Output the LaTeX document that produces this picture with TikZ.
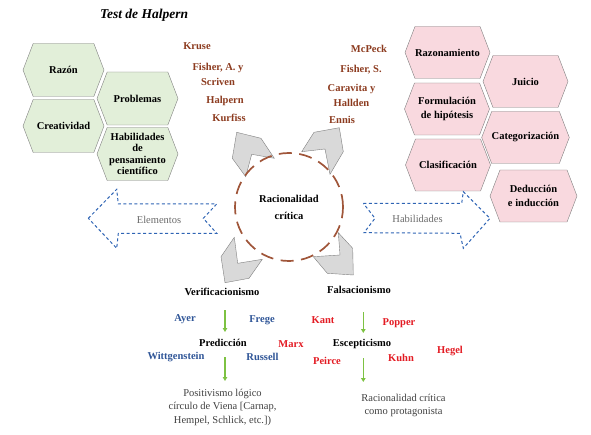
\documentclass[tikz,border=0pt]{standalone}
\usepackage{fontspec}
\setmainfont{Liberation Serif}
\usepackage{xcolor}
\usetikzlibrary{arrows.meta}
\usetikzlibrary{shapes.symbols}

\definecolor{hexgreen}{HTML}{E2EFD9}
\definecolor{hexpink}{HTML}{F9D9DF}
\definecolor{hexline}{HTML}{7F7F7F}
\definecolor{namebrown}{HTML}{8C3B1F}
\definecolor{ringbrown}{HTML}{A0563A}
\definecolor{nameblue}{HTML}{2F5597}
\definecolor{namered}{HTML}{E31B23}
\definecolor{arrowgreen}{HTML}{7DC242}
\definecolor{chevgray}{HTML}{D9D9D9}
\definecolor{dashblue}{HTML}{2E64B4}
\definecolor{labelgray}{HTML}{6A6A6A}
\definecolor{textgray}{HTML}{404040}

\tikzset{
    tnode/.style = {align=center, inner sep=0pt, text centered},
    hex/.style = {tnode, signal, signal to=east and west, signal pointer angle=138, draw=hexline, thin, font=\bfseries\fontsize{10.5}{14}\selectfont},
    green_hex/.style = {hex, fill=hexgreen, minimum width=81pt, minimum height=53pt},
    pink_hex/.style = {hex, fill=hexpink, minimum width=85pt, minimum height=52pt},
    brown_name/.style = {tnode, text=namebrown, font=\bfseries\fontsize{10.5}{15}\selectfont},
    blue_name/.style = {tnode, text=nameblue, font=\bfseries\fontsize{10.5}{13}\selectfont},
    red_name/.style = {tnode, text=namered, font=\bfseries\fontsize{10.5}{13}\selectfont},
    stage/.style = {tnode, text=black, font=\bfseries\fontsize{10.5}{13}\selectfont},
    note/.style = {tnode, text=textgray, font=\fontsize{10.5}{13.5}\selectfont},
    chevron/.style = {fill=chevgray, draw=hexline, thin},
    blockarrow/.style = {draw=dashblue, line width=1pt, dash pattern=on 3pt off 2.5pt},
    garrow/.style = {draw=arrowgreen, line width=1.1pt, -{Triangle[length=4pt, width=4.5pt]}}
}

\begin{document}
\begin{tikzpicture}
            [x=1pt, y=-1pt]

            \useasboundingbox (0,0) rectangle (591,435);

            \node [tnode, font=\bfseries\itshape\fontsize{13.5}{16}\selectfont] (title) at (144,15) {Test de Halpern};

            \node [green_hex] (razon) at (63.5,70) {Raz\'on};
            \node [green_hex] (creat) at (63.5,126) {Creatividad};
            \node [green_hex] (probl) at (137.5,98.5) {Problemas};
            \node [green_hex, font=\bfseries\fontsize{10.5}{11.3}\selectfont] (habcien) at (137.5,154) {Habilidades\\de\\pensamiento\\cient\'ifico};

            \node [pink_hex] (razona) at (447.5,52.5) {Razonamiento};
            \node [pink_hex] (juicio) at (525.5,81.5) {Juicio};
            \node [pink_hex] (formul) at (447,109) {Formulaci\'on\\de hip\'otesis};
            \node [pink_hex] (categ) at (525.5,137.5) {Categorizaci\'on};
            \node [pink_hex] (clasif) at (448,165) {Clasificaci\'on};
            \node [pink_hex, minimum width=87pt, font=\bfseries\fontsize{10.5}{13.3}\selectfont] (deduc) at (533.5,196) {Deducci\'on\\e inducci\'on};

            \node [brown_name] (kruse) at (197,46) {Kruse};
            \node [brown_name] (fishera) at (218,74.5) {Fisher, A. y\\Scriven};
            \node [brown_name] (halpern) at (225,101) {Halpern};
            \node [brown_name] (kurfiss) at (229,118) {Kurfiss};
            \node [brown_name] (mcpeck) at (369,49) {McPeck};
            \node [brown_name] (fishers) at (361,70) {Fisher, S.};
            \node [brown_name] (caravita) at (351.5,95.5) {Caravita y\\Hallden};
            \node [brown_name] (ennis) at (342,120) {Ennis};

            \draw [chevron] (236.7,132.3) -- (261,138.3) -- (274.3,158.3) -- (251.7,154.3) -- (245.7,176.7) -- (232.3,158.3) -- cycle;
            \draw [chevron] (314,132.3) -- (339.3,127.7) -- (343.3,151.7) -- (330,174.3) -- (325,149) -- (301.7,151.7) -- cycle;
            \draw [chevron] (234.3,237.3) -- (237.7,263.3) -- (262.3,259.3) -- (249,278.3) -- (225,282.7) -- (221,256.7) -- cycle;
            \draw [chevron] (338.3,232.7) -- (352.7,248.3) -- (353.3,275) -- (327.3,273.3) -- (313.3,256.7) -- (340,255) -- cycle;

            \node [tnode, circle, draw=ringbrown, line width=1.7pt, dash pattern=on 13pt off 7.5pt, minimum size=108pt, font=\bfseries\fontsize{10.5}{17}\selectfont] (racio) at (289,207) {Racionalidad\\cr\'itica};

            \draw [blockarrow] (88.3,218.3) -- (116.7,189.3) -- (118.3,204) -- (216.7,204) -- (203.3,218.3) -- (216.7,233.3) -- (118.3,233.3) -- (116.7,248.3) -- cycle;
            \node [tnode, text=labelgray, font=\fontsize{10.5}{13}\selectfont] (elem) at (159,219.5) {Elementos};
            \draw [blockarrow] (363.3,203.3) -- (461.7,203.3) -- (463.3,191.7) -- (490,218.3) -- (463.3,248.3) -- (460,233.3) -- (364,232.7) -- (375,218.3) -- cycle;
            \node [tnode, text=labelgray, font=\fontsize{10.5}{13}\selectfont] (habil) at (417.5,218.5) {Habilidades};

            \node [stage] (verif) at (222,292) {Verificacionismo};
            \node [stage] (pred) at (223,343) {Predicci\'on};
            \node [note] (posit) at (222.5,407) {Positivismo l\'ogico\\c\'irculo de Viena [Carnap,\\Hempel, Schlick, etc.])};
            \node [stage] (falsa) at (359,289.5) {Falsacionismo};
            \node [stage] (escep) at (362,343.5) {Escepticismo};
            \node [note] (racprot) at (403.5,405.5) {Racionalidad cr\'itica\\como protagonista};

            \node [blue_name] (ayer) at (185,319) {Ayer};
            \node [blue_name] (frege) at (262,320) {Frege};
            \node [blue_name] (wittg) at (176,357) {Wittgenstein};
            \node [blue_name] (russell) at (262.5,357) {Russell};

            \node [red_name] (marx) at (291,344) {Marx};
            \node [red_name] (kant) at (323,320) {Kant};
            \node [red_name] (popper) at (399,323) {Popper};
            \node [red_name] (peirce) at (327,361) {Peirce};
            \node [red_name] (kuhn) at (401,358) {Kuhn};
            \node [red_name] (hegel) at (450,351) {Hegel};

            \coordinate (v1) at (225,310);
            \coordinate (v2) at (225,332);
            \coordinate (v3) at (225,357);
            \coordinate (v4) at (225,381);
            \coordinate (f1) at (363.3,312);
            \coordinate (f2) at (363.3,333);
            \coordinate (f3) at (363.3,358);
            \coordinate (f4) at (363.3,382);
            \draw [garrow] (v1) -- (v2);
            \draw [garrow] (v3) -- (v4);
            \draw [garrow] (f1) -- (f2);
            \draw [garrow] (f3) -- (f4);
\end{tikzpicture}
\end{document}
